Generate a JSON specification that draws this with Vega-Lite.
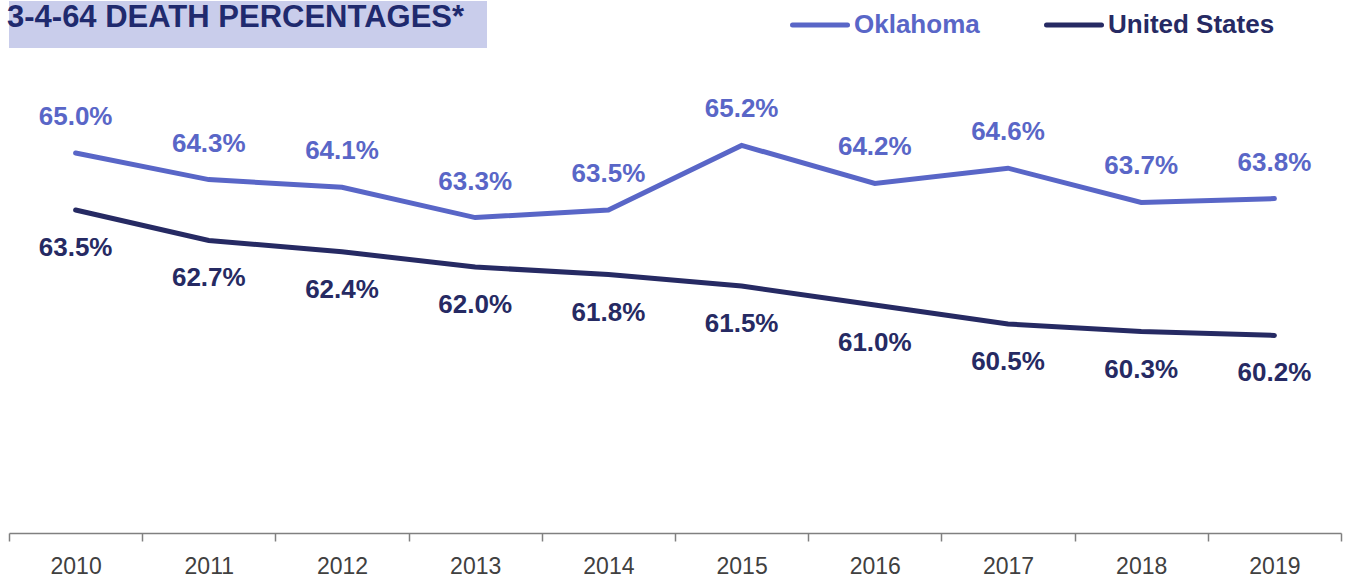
{
  "$schema": "https://vega.github.io/schema/vega-lite/v6.json",
  "width": 1332,
  "height": 475,
  "autosize": {"type": "none"},
  "padding": {"left": 9, "top": 58, "right": 9, "bottom": 44},
  "background": "white",
  "config": {"view": {"stroke": null}, "font": "Liberation Sans"},
  "title": {
    "text": "3-4-64 DEATH PERCENTAGES*",
    "anchor": "start",
    "frame": "group",
    "fontSize": 31,
    "fontWeight": "bold",
    "color": "#1f2a6e",
    "font": "Liberation Sans",
    "baseline": "top",
    "offset": -37,
    "encode": {
      "group": {"update": {"fill": {"value": "#c9cdeb"}, "width": {"value": 478}, "height": {"value": 47}}},
      "title": {"update": {"dx": {"value": -2}, "dy": {"value": 2}}}
    }
  },
  "data": {
    "values": [
      {"year": "2010", "series": "Oklahoma", "value": 0.650},
      {"year": "2011", "series": "Oklahoma", "value": 0.643},
      {"year": "2012", "series": "Oklahoma", "value": 0.641},
      {"year": "2013", "series": "Oklahoma", "value": 0.633},
      {"year": "2014", "series": "Oklahoma", "value": 0.635},
      {"year": "2015", "series": "Oklahoma", "value": 0.652},
      {"year": "2016", "series": "Oklahoma", "value": 0.642},
      {"year": "2017", "series": "Oklahoma", "value": 0.646},
      {"year": "2018", "series": "Oklahoma", "value": 0.637},
      {"year": "2019", "series": "Oklahoma", "value": 0.638},
      {"year": "2010", "series": "United States", "value": 0.635},
      {"year": "2011", "series": "United States", "value": 0.627},
      {"year": "2012", "series": "United States", "value": 0.624},
      {"year": "2013", "series": "United States", "value": 0.620},
      {"year": "2014", "series": "United States", "value": 0.618},
      {"year": "2015", "series": "United States", "value": 0.615},
      {"year": "2016", "series": "United States", "value": 0.610},
      {"year": "2017", "series": "United States", "value": 0.605},
      {"year": "2018", "series": "United States", "value": 0.603},
      {"year": "2019", "series": "United States", "value": 0.602}
    ]
  },
  "encoding": {
    "x": {
      "field": "year",
      "type": "ordinal",
      "scale": {"type": "band", "paddingInner": 0, "paddingOuter": 0},
      "axis": {
        "title": null,
        "labelAngle": 0,
        "tickBand": "extent",
        "domainColor": "#808080",
        "domainWidth": 1.5,
        "tickColor": "#808080",
        "tickWidth": 1.5,
        "tickSize": 8,
        "labelFont": "Liberation Sans",
        "labelFontSize": 23,
        "labelColor": "#404040",
        "labelPadding": 14
      }
    },
    "y": {
      "field": "value",
      "type": "quantitative",
      "scale": {"domain": [0.55, 0.675], "zero": false, "nice": false},
      "axis": null
    },
    "color": {
      "field": "series",
      "type": "nominal",
      "scale": {"domain": ["Oklahoma", "United States"], "range": ["#5966c7", "#262a63"]}
    }
  },
  "layer": [
    {
      "mark": {"type": "line", "strokeWidth": 5, "strokeCap": "round", "strokeJoin": "miter"},
      "encoding": {
        "color": {
          "field": "series",
          "type": "nominal",
          "legend": {
            "orient": "none",
            "legendX": 781,
            "legendY": -63,
            "direction": "horizontal",
            "title": null,
            "symbolType": "stroke",
            "symbolStrokeWidth": 5,
            "symbolSize": 3025,
            "labelFont": "Liberation Sans",
            "labelFontSize": 26,
            "labelFontWeight": "bold",
            "labelOffset": 4,
            "labelLimit": 400,
            "columnPadding": 56,
            "encode": {
              "labels": {"update": {"fill": {"signal": "datum.value === 'Oklahoma' ? '#5966c7' : '#262a63'"}}},
              "symbols": {"update": {"strokeCap": {"value": "round"}}}
            }
          }
        }
      }
    },
    {
      "transform": [{"filter": "datum.series === 'Oklahoma'"}],
      "mark": {"type": "text", "fontSize": 26, "fontWeight": "bold", "dy": -36, "font": "Liberation Sans"},
      "encoding": {"text": {"field": "value", "format": ".1%"}}
    },
    {
      "transform": [{"filter": "datum.series === 'United States'"}],
      "mark": {"type": "text", "fontSize": 26, "fontWeight": "bold", "dy": 38, "font": "Liberation Sans"},
      "encoding": {"text": {"field": "value", "format": ".1%"}}
    }
  ]
}
